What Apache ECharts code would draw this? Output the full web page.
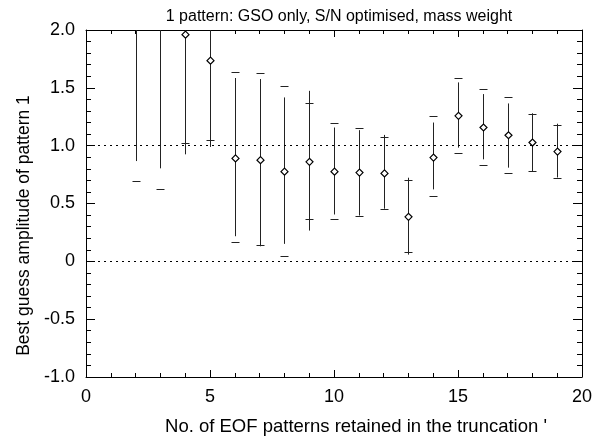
<!DOCTYPE html>
<html>
<head>
<meta charset="utf-8">
<script src="https://cdn.jsdelivr.net/npm/echarts@6/dist/echarts.min.js"></script>
<style>
html,body{margin:0;padding:0;background:#fff;}
#chart{width:605px;height:442px;}
</style>
</head>
<body>
<div id="chart"></div>
<script>
// Number of EOF patterns retained
var nPatterns = [2, 3, 4, 5, 6, 7, 8, 9, 10, 11, 12, 13, 14, 15, 16, 17, 18, 19];
// Best guess amplitude (values for 2 and 3 are off the top of the chart)
var bestGuess = [2.4, 2.5, 1.96, 1.735, 0.89, 0.875, 0.775, 0.86, 0.775, 0.767, 0.76, 0.385, 0.897, 1.258, 1.157, 1.09, 1.027, 0.949];
// Vertical uncertainty line range
var lineLow  = [0.867, 0.804, 0.925, 0.989, 0.217, 0.13, 0.151, 0.266, 0.405, 0.396, 0.455, 0.058, 0.622, 0.983, 0.882, 0.81, 0.78, 0.725];
var lineHigh = [3.0, 3.0, 2.6, 2.4, 1.585, 1.576, 1.417, 1.474, 1.157, 1.134, 1.093, 0.723, 1.2, 1.547, 1.446, 1.365, 1.28, 1.19];
// Horizontal dash markers (second uncertainty range)
var dashLow  = [0.694, 0.622, 1.027, 1.047, 0.165, 0.145, 0.049, 0.362, 0.368, 0.39, 0.455, 0.078, 0.564, 0.94, 0.833, 0.761, 0.781, 0.723];
var dashHigh = [3.2, 3.2, 2.8, 2.6, 1.64, 1.628, 1.518, 1.365, 1.194, 1.151, 1.075, 0.70, 1.258, 1.582, 1.489, 1.422, 1.278, 1.18];
// Axis ticks
var xTicks = [0, 5, 10, 15, 20];
var yTicks = [-1.0, -0.5, 0, 0.5, 1.0, 1.5, 2.0];
var refLines = [0, 1];

var X_MIN = xTicks[0], X_MAX = xTicks[xTicks.length - 1];
var Y_MIN = yTicks[0], Y_MAX = yTicks[yTicks.length - 1];

var data = nPatterns.map(function (n, i) {
  return [n, lineLow[i], lineHigh[i], dashLow[i], dashHigh[i], bestGuess[i]];
});

var FONT = '"Liberation Sans", Arial, Helvetica, sans-serif';

function renderItem(params, api) {
  var cs = params.coordSys;
  var top = cs.y, bottom = cs.y + cs.height;
  var x = api.value(0);
  var lo = api.coord([x, api.value(1)]);
  var hi = api.coord([x, api.value(2)]);
  var px = Math.round(lo[0]) + 0.5;
  var y1 = Math.min(bottom, Math.max(top, lo[1]));
  var y2 = Math.min(bottom, Math.max(top, hi[1]));
  var children = [];
  children.push({
    type: 'line',
    shape: { x1: px, y1: y1, x2: px, y2: y2 },
    style: { stroke: '#222', lineWidth: 1 }
  });
  [api.value(3), api.value(4)].forEach(function (v) {
    if (v >= Y_MIN && v <= Y_MAX) {
      var p = api.coord([x, v]);
      var py = Math.round(p[1]) + 0.5;
      children.push({
        type: 'line',
        shape: { x1: px - 4, y1: py, x2: px + 4, y2: py },
        style: { stroke: '#222', lineWidth: 1 }
      });
    }
  });
  var b = api.value(5);
  if (b >= Y_MIN && b <= Y_MAX) {
    var c = api.coord([x, b]);
    children.push({
      type: 'polygon',
      shape: { points: [[px - 3.5, c[1]], [px, c[1] - 3.5], [px + 3.5, c[1]], [px, c[1] + 3.5]] },
      style: { fill: '#fff', stroke: '#000', lineWidth: 1.2 }
    });
  }
  return { type: 'group', children: children };
}

var tickStyle = { color: '#000', width: 1 };

function yLabel(v) {
  if (Math.abs(v) < 1e-9) return '0';
  return v.toFixed(1);
}

var option = {
  backgroundColor: '#fff',
  animation: false,
  title: {
    text: '1 pattern: GSO only, S/N optimised, mass weight',
    left: 334,
    top: 4,
    textAlign: 'center',
    textStyle: { fontFamily: FONT, fontSize: 16, fontWeight: 'normal', color: '#000' }
  },
  grid: { left: 86, right: 23, top: 30, bottom: 65, show: false },
  xAxis: [{
    type: 'value', min: X_MIN, max: X_MAX, interval: 5, position: 'bottom',
    name: "No. of EOF patterns retained in the truncation '",
    nameLocation: 'middle', nameGap: 40,
    nameTextStyle: { fontFamily: FONT, fontSize: 18.5, color: '#000', padding: [0, 0, 0, 44] },
    axisLine: { show: true, onZero: false, lineStyle: { color: '#000', width: 1 } },
    axisTick: { show: true, inside: true, length: 7, lineStyle: tickStyle },
    minorTick: { show: true, splitNumber: 5, length: 4, lineStyle: tickStyle },
    axisLabel: { fontFamily: FONT, fontSize: 18, color: '#000', margin: 11 },
    splitLine: { show: false }
  }, {
    type: 'value', min: X_MIN, max: X_MAX, interval: 5, position: 'top',
    axisLine: { show: true, onZero: false, lineStyle: { color: '#000', width: 1 } },
    axisTick: { show: true, inside: true, length: 7, lineStyle: tickStyle },
    minorTick: { show: true, splitNumber: 5, length: 4, lineStyle: tickStyle },
    axisLabel: { show: false },
    splitLine: { show: false }
  }],
  yAxis: [{
    type: 'value', min: Y_MIN, max: Y_MAX, interval: 0.5, position: 'left',
    name: 'Best guess amplitude of pattern 1',
    nameLocation: 'middle', nameGap: 48,
    nameTextStyle: { fontFamily: FONT, fontSize: 17.5, color: '#000', padding: [0, 44, 0, 0] },
    axisLine: { show: true, onZero: false, lineStyle: { color: '#000', width: 1 } },
    axisTick: { show: true, inside: true, length: 9, lineStyle: tickStyle },
    minorTick: { show: true, splitNumber: 5, length: 5, lineStyle: tickStyle },
    axisLabel: { fontFamily: FONT, fontSize: 18, color: '#000', margin: 11, formatter: yLabel },
    splitLine: { show: false }
  }, {
    type: 'value', min: Y_MIN, max: Y_MAX, interval: 0.5, position: 'right',
    axisLine: { show: true, onZero: false, lineStyle: { color: '#000', width: 1 } },
    axisTick: { show: true, inside: true, length: 9, lineStyle: tickStyle },
    minorTick: { show: true, splitNumber: 5, length: 5, lineStyle: tickStyle },
    axisLabel: { show: false },
    splitLine: { show: false }
  }],
  series: [{
    type: 'line',
    data: [],
    silent: true,
    markLine: {
      symbol: 'none',
      silent: true,
      label: { show: false },
      lineStyle: { type: [2, 4], color: '#000', width: 1 },
      data: refLines.map(function (v) { return { yAxis: v }; })
    }
  }, {
    type: 'custom',
    renderItem: renderItem,
    clip: true,
    encode: { x: 0, y: [1, 2, 3, 4, 5] },
    data: data,
    silent: true
  }]
};

var chart = echarts.init(document.getElementById('chart'), null, { renderer: 'canvas' });
chart.setOption(option);
</script>
</body>
</html>
